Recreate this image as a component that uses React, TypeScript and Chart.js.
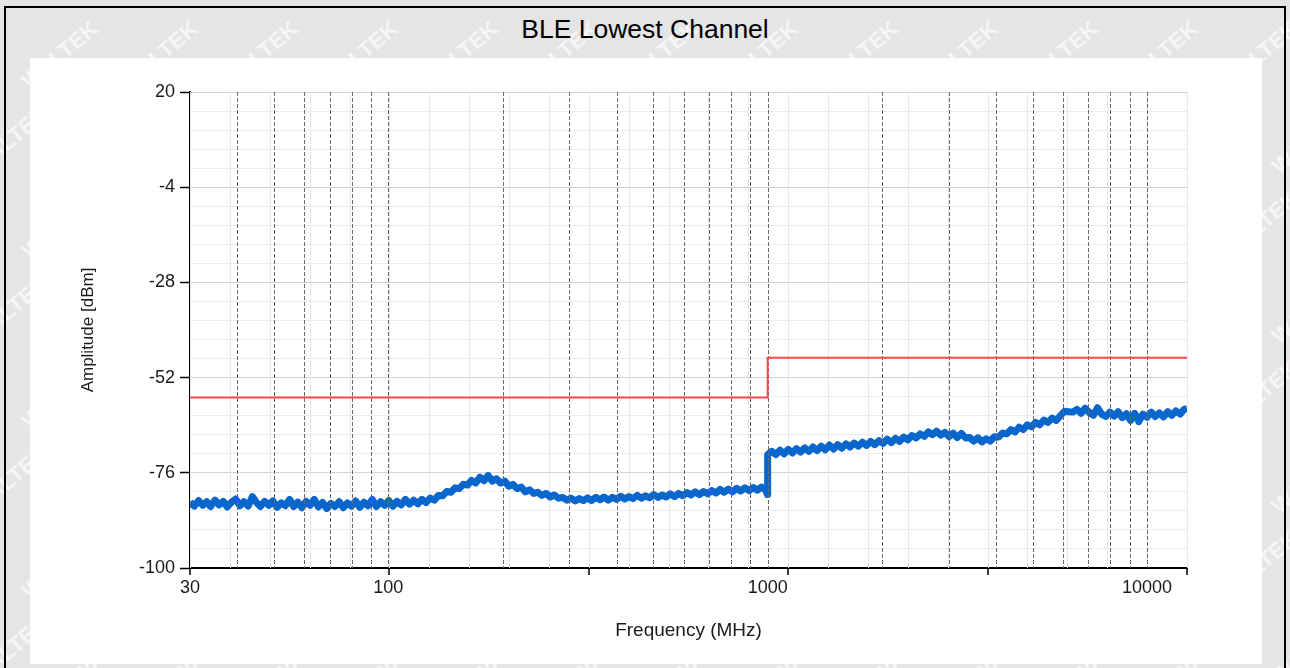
import React, { useEffect, useRef } from 'react';
import { Chart, registerables } from 'chart.js';

Chart.register(...registerables);

const TITLE = 'BLE Lowest Channel';
const X_TITLE = 'Frequency (MHz)';
const Y_TITLE = 'Amplitude [dBm]';
const WATERMARK = 'WALTEK';

const X_MIN = 30;
const X_MAX = 12750;
const Y_MIN = -100;
const Y_MAX = 20;
const Y_STEP = 4.8;
const Y_LABEL_STEP = 24;

const X_LABEL_TICKS = [30, 100, 1000, 10000];
const X_MAJOR_TICKS = [30, 100.64, 337.63, 1132.7, 3800, 12750];
const X_MINOR_GRID = [
  30, 38.22, 48.68, 62.02, 79.0, 100.64, 128.21, 163.32, 208.05, 265.04, 337.63, 430.11, 547.91,
  697.98, 889.15, 1132.7, 1442.9, 1838.1, 2341.6, 2983.0, 3800.0, 4840.8, 6166.6, 7855.6, 10007, 12750,
];
const X_DASHED_GRID = [
  40, 50, 60, 70, 80, 90, 100, 200, 300, 400, 500, 600, 700, 800, 900, 1000,
  2000, 3000, 4000, 5000, 6000, 7000, 8000, 9000, 10000,
];

const LIMIT_FREQ = [30, 1000, 1000, 12750];
const LIMIT_AMP = [-57, -57, -47, -47];

const FREQ_LOW = [
  30, 30.8, 31.6, 32.4, 33.2, 34, 34.9, 35.8, 36.7, 37.6, 38.6, 39.6, 40.6, 41.6, 42.7, 43.8, 44.9, 46,
  47.2, 48.4, 49.6, 50.9, 52.2, 53.5, 54.9, 56.3, 57.7, 59.2, 60.7, 62.2, 63.8, 65.4, 67.1, 68.8, 70.5,
  72.3, 74.2, 76.1, 78, 80, 82, 84.1, 86.2, 88.4, 90.7, 93, 95.4, 97.8, 100.3, 102.8, 105.4, 108.1, 110.9,
  113.7, 116.6, 119.6, 122.6, 125.7, 128.9, 132.2, 135.6, 139, 142.6, 146.2, 149.9, 153.7, 157.6, 161.6,
  165.7, 170, 174.3, 178.7, 183.3, 188, 192.7, 197.6, 202.7, 207.8, 213.1, 218.5, 224.1, 229.8, 235.7,
  241.7, 247.8, 254.1, 260.6, 267.2, 274, 281, 288.2, 295.5, 303, 310.7, 318.7, 326.8, 335.1, 343.6,
  352.4, 361.3, 370.5, 380, 389.6, 399.6, 409.7, 420.2, 430.9, 441.8, 453.1, 464.6, 476.4, 488.6, 501,
  513.8, 526.8, 540.3, 554, 568.1, 582.6, 597.4, 612.6, 628.2, 644.2, 660.6, 677.4, 694.7, 712.4, 730.5,
  749.1, 768.2, 787.8, 807.8, 828.4, 849.5, 871.1, 893.3, 916, 939.4, 963.3, 987.8, 999,
];
const AMP_LOW = [
  -83.4, -84.4, -83.0, -84.2, -83.3, -84.5, -82.9, -84.1, -83.2, -84.6, -83.4, -82.6, -84.3, -83.3, -84.4,
  -82.0, -83.5, -84.5, -83.2, -84.2, -83.1, -84.7, -83.6, -84.3, -82.7, -84.5, -83.4, -84.8, -83.2, -84.2,
  -82.7, -84.6, -83.5, -85.0, -83.7, -84.5, -83.3, -84.8, -83.6, -84.4, -83.1, -84.7, -83.4, -84.3, -82.7,
  -84.5, -83.3, -84.2, -83.0, -84.4, -83.2, -84.1, -82.7, -83.9, -82.9, -83.8, -82.7, -83.5, -82.4, -82.9,
  -81.7, -81.8, -80.7, -80.9, -79.8, -80.0, -78.9, -79.1,
  -77.9, -78.6, -77.1, -78.0, -76.7, -78.1, -77.5, -78.6, -78.1, -79.4, -78.9, -80.0, -79.6, -80.8, -80.3,
  -81.2, -80.9, -81.7, -81.2, -82.1, -81.6, -82.4,
  -82.2, -82.9, -82.4, -83.1, -82.5, -83.0, -82.3, -83.0,
  -82.2, -82.8, -82.1, -82.9, -82.2, -82.7, -81.9, -82.6, -82.0, -82.5, -81.7, -82.4, -81.8, -82.3, -81.5,
  -82.2, -81.6, -82.1, -81.3, -82.0, -81.2, -81.8, -81.0, -81.6, -80.8, -81.5, -80.7, -81.3, -80.5, -81.1,
  -80.2, -80.9, -80.1, -80.8, -79.9, -80.6, -79.8, -80.5, -79.7, -80.4, -79.6, -80.3, -81.5,
];

const FREQ_HIGH = [
  1000, 1025, 1051, 1078, 1105, 1133, 1162, 1191, 1221, 1252, 1284, 1316, 1350, 1384, 1419, 1455, 1492,
  1530, 1568, 1608, 1649, 1691, 1734, 1778, 1823, 1869, 1916, 1965, 2015, 2066, 2118, 2172, 2227, 2283,
  2341, 2400, 2461, 2524, 2588, 2653, 2721, 2790, 2860, 2933, 3007, 3083, 3161, 3241, 3324, 3408, 3494,
  3583, 3674, 3767, 3862, 3960, 4061, 4164, 4269, 4378, 4489, 4602, 4719, 4839, 4962, 5087, 5216, 5349,
  5484, 5623, 5766, 5912, 6062, 6216, 6373, 6535, 6701, 6871, 7045, 7224, 7407, 7595, 7788, 7985, 8188,
  8395, 8608, 8827, 9051, 9280, 9516, 9757, 10005, 10258, 10519, 10785, 11059, 11340, 11627, 11922,
  12225, 12535, 12750,
];
const AMP_HIGH = [
  -71.4, -70.6, -71.4, -70.3, -71.2, -70.1, -71.0, -69.9, -70.8, -69.7, -70.6, -69.5, -70.4, -69.3, -70.2,
  -69.0, -70.0, -68.9, -69.8, -68.7, -69.5, -68.5, -69.3, -68.3, -69.1, -68.1, -68.9, -67.9, -68.6, -67.5,
  -68.4, -67.3, -68.1, -67.0, -67.7, -66.6, -67.2, -66.2, -66.8, -65.7, -66.4, -65.5, -66.5, -65.8, -66.9,
  -66.0, -67.1, -66.1, -67.2, -67.1, -68.0, -67.2, -68.2, -67.4, -68.0, -66.9, -67.0, -66.0, -66.2, -65.1,
  -65.7, -64.5, -65.1, -63.9, -64.4, -63.3, -63.9, -62.7, -63.3, -62.2, -62.8, -61.6, -60.5, -60.6, -60.7,
  -60.0, -61.0, -59.7, -60.8, -61.5, -59.6, -61.2, -61.8, -60.7, -61.7, -60.6, -62.1, -61.1, -62.8, -61.0,
  -63.1, -61.2, -62.0, -60.7, -61.8, -60.9, -61.9, -60.6, -61.5, -60.4, -61.2, -60.0, -59.8,
];

const FONT = '"Liberation Sans", Arial, sans-serif';

const isMajorY = (v: number) => {
  const k = (v - Y_MIN) / Y_LABEL_STEP;
  return Math.abs(k - Math.round(k)) < 1e-3;
};

const gridPlugin = {
  id: 'customGrid',
  beforeDatasetsDraw(chart: any) {
    const { ctx, chartArea: a, scales } = chart;
    const x = scales.x;
    ctx.save();
    ctx.strokeStyle = '#e8e8e8';
    ctx.lineWidth = 1;
    X_MINOR_GRID.forEach((v) => {
      const px = Math.round(x.getPixelForValue(v)) + 0.5;
      ctx.beginPath();
      ctx.moveTo(px, a.top);
      ctx.lineTo(px, a.bottom);
      ctx.stroke();
    });
    ctx.restore();
  },
  afterDatasetDraw(chart: any, args: any) {
    if (args.index !== 1) return;
    const { ctx, chartArea: a, scales } = chart;
    const x = scales.x;
    ctx.save();
    ctx.strokeStyle = '#6a6a6a';
    ctx.lineWidth = 1;
    ctx.setLineDash([4, 2]);
    X_DASHED_GRID.forEach((v) => {
      const px = Math.round(x.getPixelForValue(v)) + 0.5;
      ctx.beginPath();
      ctx.moveTo(px, a.top);
      ctx.lineTo(px, a.bottom);
      ctx.stroke();
    });
    ctx.restore();
  },
  afterDraw(chart: any) {
    const { ctx, chartArea: a, scales } = chart;
    const x = scales.x;
    ctx.save();
    ctx.strokeStyle = '#000';
    ctx.lineWidth = 1.5;
    X_MAJOR_TICKS.forEach((v) => {
      const px = Math.round(x.getPixelForValue(v));
      ctx.beginPath();
      ctx.moveTo(px, a.bottom);
      ctx.lineTo(px, a.bottom + 7);
      ctx.stroke();
    });
    ctx.restore();
  },
};

export default function App() {
  const canvasRef = useRef<HTMLCanvasElement | null>(null);

  useEffect(() => {
    const canvas = canvasRef.current;
    if (!canvas) return;
    const trace = [
      ...FREQ_LOW.map((f, i) => ({ x: f, y: AMP_LOW[i] })),
      ...FREQ_HIGH.map((f, i) => ({ x: f, y: AMP_HIGH[i] })),
    ];
    const limit = LIMIT_FREQ.map((f, i) => ({ x: f, y: LIMIT_AMP[i] }));
    const chart = new Chart(canvas, {
      type: 'line',
      data: {
        datasets: [
          {
            label: 'Limit',
            data: limit,
            borderColor: '#ff4848',
            borderWidth: 2,
            pointRadius: 0,
            tension: 0,
          },
          {
            label: 'Trace',
            data: trace,
            borderColor: '#0866cc',
            borderWidth: 7,
            pointRadius: 0,
            tension: 0,
            borderJoinStyle: 'round',
          },
        ],
      },
      options: {
        animation: false,
        responsive: false,
        devicePixelRatio: 1,
        layout: { padding: { left: 0, top: 92, right: 103, bottom: 0 } },
        plugins: {
          legend: { display: false },
          tooltip: { enabled: false },
          title: { display: false },
        },
        scales: {
          x: {
            type: 'logarithmic',
            min: X_MIN,
            max: X_MAX,
            position: 'bottom',
            afterBuildTicks: (s: any) => {
              s.ticks = X_LABEL_TICKS.map((v) => ({ value: v }));
            },
            afterFit: (s: any) => {
              s.height = 100;
            },
            grid: { display: false, drawTicks: false },
            border: { display: true, color: '#000', width: 2 },
            ticks: {
              autoSkip: false,
              maxRotation: 0,
              padding: 9,
              color: '#1a1a1a',
              font: { family: FONT, size: 18 },
              callback: (v: any) => String(v),
            },
            title: {
              display: true,
              text: X_TITLE,
              color: '#1a1a1a',
              font: { family: FONT, size: 19 },
              padding: { top: 0, bottom: 26 },
            },
          },
          y: {
            type: 'linear',
            min: Y_MIN,
            max: Y_MAX,
            afterFit: (s: any) => {
              s.width = 190;
            },
            ticks: {
              stepSize: Y_STEP,
              autoSkip: false,
              padding: 5,
              color: '#1a1a1a',
              font: { family: FONT, size: 18 },
              callback: (v: any) => (isMajorY(Number(v)) ? String(Math.round(Number(v))) : ''),
            },
            grid: {
              color: (c: any) => (c.tick && isMajorY(c.tick.value) ? '#d4d4d4' : '#ececec'),
              lineWidth: 1,
              tickLength: 10,
              tickWidth: 1.5,
              tickColor: (c: any) => (c.tick && isMajorY(c.tick.value) ? '#000' : 'rgba(0,0,0,0)'),
            },
            border: { display: true, color: '#000', width: 2 },
            title: {
              display: true,
              text: Y_TITLE,
              color: '#1a1a1a',
              font: { family: FONT, size: 17 },
              padding: { top: 78, bottom: 0 },
            },
          },
        },
      },
      plugins: [gridPlugin],
    } as any);
    return () => chart.destroy();
  }, []);

  const marks: React.ReactNode[] = [];
  for (let r = 0; r < 9; r++) {
    for (let c = -1; c < 14; c++) {
      const cx = 60 + c * 100 + (r % 2) * 50;
      const cy = 55 + r * 85;
      marks.push(
        <span
          key={`${r}-${c}`}
          style={{
            position: 'absolute',
            left: cx - 50,
            top: cy - 13,
            width: 100,
            textAlign: 'center',
            fontFamily: FONT,
            fontWeight: 'bold',
            fontSize: 22,
            lineHeight: '26px',
            color: '#f6f6f6',
            transform: 'rotate(-40deg)',
            whiteSpace: 'nowrap',
          }}
        >
          {WATERMARK}
        </span>
      );
    }
  }

  return (
    <div
      style={{
        position: 'fixed',
        left: 0,
        top: 0,
        width: 1290,
        height: 668,
        background: '#e5e5e5',
        overflow: 'hidden',
      }}
    >
      {marks}
      <div
        style={{
          position: 'absolute',
          left: 4,
          top: 6,
          width: 1282,
          height: 700,
          border: '2px solid #000',
          boxSizing: 'border-box',
        }}
      />
      <div
        style={{
          position: 'absolute',
          left: 30,
          top: 58,
          width: 1232,
          height: 606,
          background: '#fff',
        }}
      />
      <div
        style={{
          position: 'absolute',
          left: 0,
          top: 14,
          width: 1290,
          textAlign: 'center',
          fontFamily: FONT,
          fontSize: 26.5,
          lineHeight: '30px',
          color: '#000',
        }}
      >
        {TITLE}
      </div>
      <canvas
        ref={canvasRef}
        width={1290}
        height={668}
        style={{ position: 'absolute', left: 0, top: 0, width: 1290, height: 668 }}
      />
    </div>
  );
}
